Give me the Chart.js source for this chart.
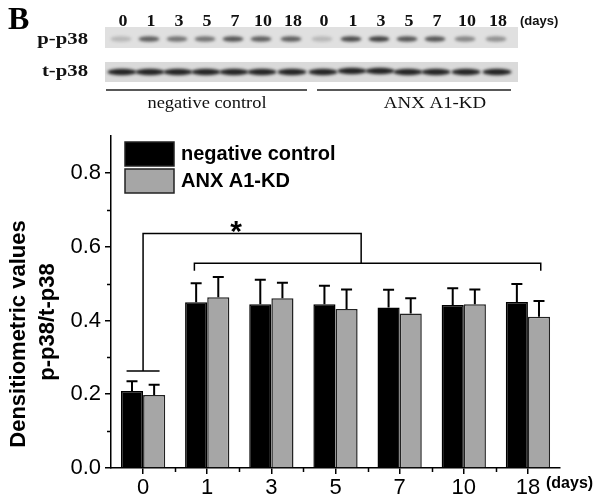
<!DOCTYPE html>
<html>
<head>
<meta charset="utf-8">
<script src="https://cdn.jsdelivr.net/npm/chart.js@4.4.0/dist/chart.umd.min.js"></script>
<style>
  html, body { margin: 0; padding: 0; background: #fff; }
  canvas { display: block; }
</style>
</head>
<body>
<canvas id="chart" width="602" height="503"></canvas>
<script>
// values
const days = ["0", "1", "3", "5", "7", "10", "18"];
const controlMeans = [0.209, 0.449, 0.444, 0.444, 0.435, 0.442, 0.450];
const controlErrors = [0.026, 0.052, 0.066, 0.050, 0.048, 0.045, 0.049];
const kdMeans = [0.198, 0.463, 0.460, 0.431, 0.419, 0.444, 0.410];
const kdErrors = [0.028, 0.055, 0.042, 0.053, 0.041, 0.040, 0.043];
const seriesNames = ["negative control", "ANX A1-KD"];

// blot lanes (band strength 0..1), top panel p-p38, bottom t-p38
const laneLabels = ["0", "1", "3", "5", "7", "10", "18", "0", "1", "3", "5", "7", "10", "18"];
const pp38Bands = [0.2, 0.65, 0.55, 0.55, 0.7, 0.65, 0.65, 0.2, 0.75, 0.8, 0.7, 0.7, 0.45, 0.4];
const tp38Bands = [0.9, 0.9, 0.9, 0.9, 0.9, 0.9, 0.9, 0.9, 0.9, 0.9, 0.9, 0.9, 0.9, 0.9];

// significance brackets (x in category units, y in data units)
const upperBracket = { from: 0, to: 3.4, level: 0.636 };
const lowerBracket = { from: 0.8, to: 6.2, level: 0.555, drop: 0.535 };
const day0Cap = 0.263;

const laneX = [123, 151, 179, 207, 235, 263, 293, 324, 353, 381, 409, 437, 467, 498];
const sans = '"Liberation Sans", Arial, sans-serif';
const serif = '"Liberation Serif", "Times New Roman", serif';

function stretchedText(ctx, text, x, y, font, sx, align) {
  ctx.save();
  ctx.font = font;
  ctx.translate(x, y);
  ctx.scale(sx, 1);
  ctx.textAlign = align;
  ctx.textBaseline = "alphabetic";
  ctx.fillText(text, 0, 0);
  ctx.restore();
}

function drawBlot(ctx) {
  ctx.save();
  ctx.fillStyle = "#000";
  ctx.font = "bold 32px " + serif;
  ctx.textBaseline = "alphabetic";
  ctx.fillText("B", 8, 29);

  ctx.fillStyle = "#111";
  laneLabels.forEach((t, i) => stretchedText(ctx, t, laneX[i], 26, "bold 16px " + serif, 1.12, "center"));
  ctx.font = "bold 13px " + sans;
  ctx.fillText("(days)", 520, 25);

  stretchedText(ctx, "p-p38", 88, 44, "bold 17px " + serif, 1.22, "right");
  stretchedText(ctx, "t-p38", 88, 76, "bold 17px " + serif, 1.22, "right");

  // membrane panels
  ctx.fillStyle = "#e0e0e0";
  ctx.fillRect(105, 27, 413, 21);
  ctx.fillStyle = "#dadada";
  ctx.fillRect(105, 62, 413, 20);

  ctx.filter = "blur(1.4px)";
  pp38Bands.forEach((a, i) => {
    ctx.fillStyle = "rgba(25,25,25," + a + ")";
    ctx.beginPath();
    ctx.ellipse(laneX[i] - 2, 39, 10.5, 2.8, 0, 0, Math.PI * 2);
    ctx.fill();
  });
  tp38Bands.forEach((a, i) => {
    ctx.fillStyle = "rgba(15,15,15," + a + ")";
    ctx.beginPath();
    ctx.ellipse(laneX[i] - 1, 72 - (i >= 8 && i <= 9 ? 1 : 0), 14.5, 3.2, 0, 0, Math.PI * 2);
    ctx.fill();
  });
  ctx.filter = "none";

  ctx.strokeStyle = "#222";
  ctx.lineWidth = 1.5;
  ctx.beginPath();
  ctx.moveTo(106, 90); ctx.lineTo(307, 90);
  ctx.moveTo(317, 90); ctx.lineTo(511, 90);
  ctx.stroke();

  ctx.fillStyle = "#111";
  stretchedText(ctx, "negative control", 207, 108, "16px " + serif, 1.15, "center");
  stretchedText(ctx, "ANX A1-KD", 435, 108, "16px " + serif, 1.18, "center");
  ctx.restore();
}

const figurePlugin = {
  id: "figure",
  beforeDraw(chart) {
    const ctx = chart.ctx;
    ctx.save();
    ctx.fillStyle = "#fff";
    ctx.fillRect(0, 0, chart.width, chart.height);
    ctx.restore();
    drawBlot(ctx);
  },
  afterDatasetsDraw(chart) {
    const ctx = chart.ctx;
    const y = chart.scales.y;
    ctx.save();
    ctx.strokeStyle = "#000";
    ctx.lineWidth = 2;
    chart.data.datasets.forEach((ds, di) => {
      chart.getDatasetMeta(di).data.forEach((bar, i) => {
        const top = y.getPixelForValue(ds.data[i] + ds.errors[i]);
        ctx.beginPath();
        ctx.moveTo(bar.x, bar.y);
        ctx.lineTo(bar.x, top);
        ctx.moveTo(bar.x - 5.5, top);
        ctx.lineTo(bar.x + 5.5, top);
        ctx.stroke();
      });
    });
    ctx.restore();
  },
  afterDraw(chart) {
    const ctx = chart.ctx;
    const x = chart.scales.x;
    const y = chart.scales.y;
    ctx.save();
    ctx.strokeStyle = "#000";
    ctx.lineWidth = 1.5;

    // minor ticks
    ctx.beginPath();
    [0.1, 0.3, 0.5, 0.7].forEach(v => {
      const py = Math.round(y.getPixelForValue(v)) + 0.5;
      ctx.moveTo(y.right - 4, py); ctx.lineTo(y.right, py);
    });
    for (let k = 0.5; k < days.length - 1; k++) {
      const px = Math.round(x.getPixelForValue(k)) + 0.5;
      ctx.moveTo(px, x.top); ctx.lineTo(px, x.top + 4);
    }
    ctx.stroke();

    // brackets
    const ux0 = x.getPixelForValue(upperBracket.from);
    const ux1 = x.getPixelForValue(upperBracket.to);
    const uy = y.getPixelForValue(upperBracket.level);
    const ly = y.getPixelForValue(lowerBracket.level);
    const lx0 = x.getPixelForValue(lowerBracket.from);
    const lx1 = x.getPixelForValue(lowerBracket.to);
    const ldrop = y.getPixelForValue(lowerBracket.drop);
    const cy = y.getPixelForValue(day0Cap);
    ctx.beginPath();
    ctx.moveTo(ux0, cy); ctx.lineTo(ux0, uy); ctx.lineTo(ux1, uy); ctx.lineTo(ux1, ly);
    ctx.moveTo(ux0 - 16.5, cy); ctx.lineTo(ux0 + 16.5, cy);
    ctx.moveTo(lx0, ldrop); ctx.lineTo(lx0, ly); ctx.lineTo(lx1, ly); ctx.lineTo(lx1, ldrop);
    ctx.stroke();

    ctx.fillStyle = "#000";
    ctx.font = "bold 30px " + sans;
    ctx.textAlign = "center";
    ctx.textBaseline = "alphabetic";
    ctx.fillText("*", x.getPixelForValue(1.45), uy + 8);

    // legend
    const colors = ["#000", "#a6a6a6"];
    seriesNames.forEach((name, i) => {
      const top = 142 + i * 27;
      ctx.fillStyle = colors[i];
      ctx.fillRect(125, top, 49, 24);
      ctx.lineWidth = 1.5;
      ctx.strokeStyle = "#222";
      ctx.strokeRect(125, top, 49, 24);
      ctx.fillStyle = "#000";
      ctx.font = "bold 20px " + sans;
      ctx.textAlign = "left";
      ctx.textBaseline = "middle";
      ctx.fillText(name, 181, top + 12);
    });

    // y title
    ctx.font = "bold 22px " + sans;
    ctx.textAlign = "center";
    ctx.textBaseline = "alphabetic";
    ctx.save();
    ctx.translate(25, 334);
    ctx.rotate(-Math.PI / 2);
    ctx.fillText("Densitiometric values", 0, 0);
    ctx.restore();
    ctx.save();
    ctx.translate(54, 322);
    ctx.rotate(-Math.PI / 2);
    ctx.fillText("p-p38/t-p38", 0, 0);
    ctx.restore();

    ctx.font = "bold 16px " + sans;
    ctx.textAlign = "left";
    ctx.textBaseline = "middle";
    ctx.fillText("(days)", 546, 484);
    ctx.restore();
  }
};

new Chart(document.getElementById("chart"), {
  type: "bar",
  data: {
    labels: days,
    datasets: [
      { label: seriesNames[0], data: controlMeans, errors: controlErrors,
        backgroundColor: "#000", borderColor: "#000", borderWidth: 1.5 },
      { label: seriesNames[1], data: kdMeans, errors: kdErrors,
        backgroundColor: "#a6a6a6", borderColor: "#222", borderWidth: 1.5 }
    ]
  },
  options: {
    responsive: false,
    animation: false,
    layout: { padding: { top: 136, right: 42, left: 0, bottom: 0 } },
    categoryPercentage: 0.69,
    barPercentage: 1,
    plugins: { legend: { display: false }, tooltip: { enabled: false } },
    scales: {
      x: {
        grid: { drawOnChartArea: false, offset: false, tickLength: 6, color: "#000", lineWidth: 1.5 },
        border: { color: "#000", width: 1.5 },
        ticks: { color: "#000", font: { family: sans, size: 22 }, padding: 1, maxRotation: 0 },
        afterFit: s => { s.height = 35; }
      },
      y: {
        min: 0,
        max: 0.9,
        grid: { drawOnChartArea: false, tickLength: 6, color: "#000", lineWidth: 1.5 },
        border: { color: "#000", width: 1.5 },
        ticks: { stepSize: 0.2, includeBounds: false, color: "#000", padding: 4,
                 font: { family: sans, size: 22 }, callback: v => v.toFixed(1) },
        afterFit: s => { s.width = 111; }
      }
    }
  },
  plugins: [figurePlugin]
});
</script>
</body>
</html>
